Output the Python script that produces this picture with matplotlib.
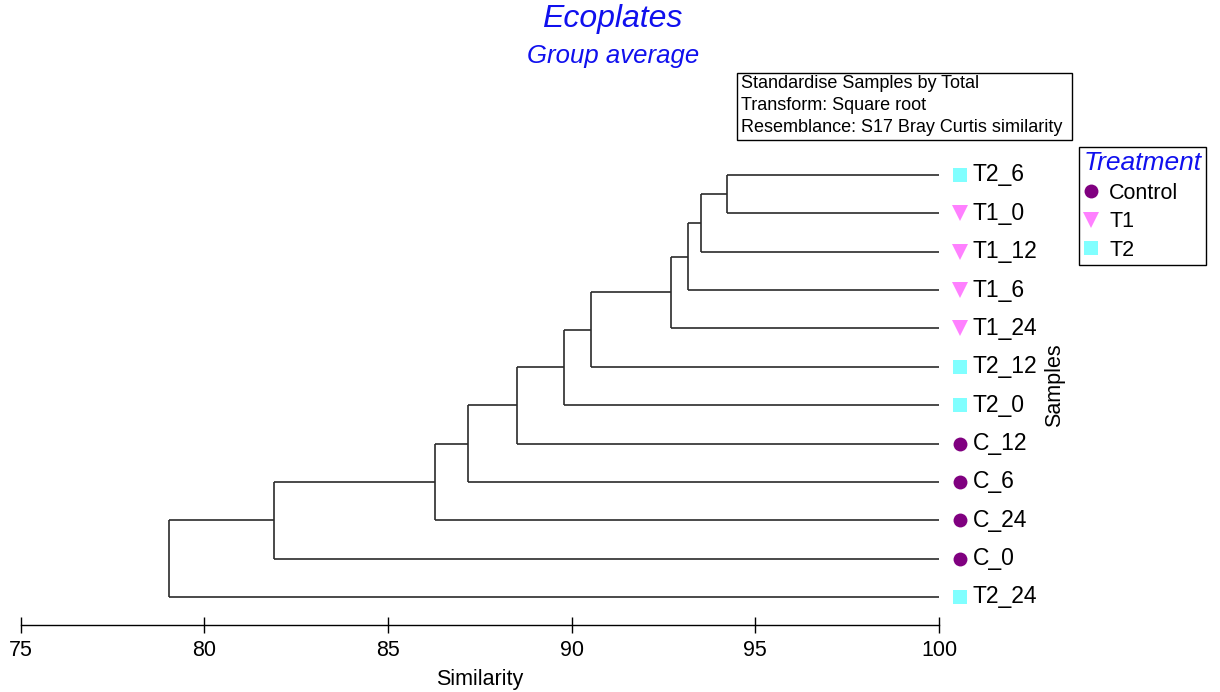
import numpy as np
import matplotlib
matplotlib.use("Agg")
import matplotlib.pyplot as plt
from matplotlib.lines import Line2D
from matplotlib.patches import Rectangle
from matplotlib.transforms import ScaledTranslation

plt.rcParams['font.family'] = ['Liberation Sans', 'DejaVu Sans']

# Samples in dendrogram order (top to bottom) and their treatment
samples = ['T2_6', 'T1_0', 'T1_12', 'T1_6', 'T1_24', 'T2_12', 'T2_0',
           'C_12', 'C_6', 'C_24', 'C_0', 'T2_24']
treatment = ['T2', 'T1', 'T1', 'T1', 'T1', 'T2', 'T2',
             'Control', 'Control', 'Control', 'Control', 'T2']

# Group-average merges: (node a, node b, similarity); new nodes numbered from 12
merge_a = [0, 12, 13, 14, 15, 16, 17, 18, 19, 20, 21]
merge_b = [1, 2, 3, 4, 5, 6, 7, 8, 9, 10, 11]
merge_sim = [94.22, 93.53, 93.16, 92.71, 90.52, 89.78, 88.51, 87.19, 86.28, 81.91, 79.04]

groups = ['Control', 'T1', 'T2']
group_marker = {'Control': 'o', 'T1': 'v', 'T2': 's'}
group_color = {'Control': '#800080', 'T1': '#ff80ff', 'T2': '#80ffff'}

W, H = 1220, 692
fig = plt.figure(figsize=(W / 100, H / 100), dpi=100)
ax = fig.add_axes([20.5 / W, 1 - 625 / H, (939 - 20.5) / W, (625 - 160) / H])

n = len(samples)
ypos = {i: float(i) for i in range(n)}
xpos = {i: 100.0 for i in range(n)}
line_kw = dict(color='#2b2b2b', lw=1.2, solid_capstyle='butt')

for k, (a, b, s) in enumerate(zip(merge_a, merge_b, merge_sim)):
    for c in (a, b):
        ax.plot([s, xpos[c]], [ypos[c], ypos[c]], **line_kw)
    ax.plot([s, s], [ypos[a], ypos[b]], **line_kw)
    node = n + k
    ypos[node] = (ypos[a] + ypos[b]) / 2
    xpos[node] = s

# Leaf markers and labels to the right of similarity 100
mark_tr = ax.transData + ScaledTranslation(0.21, 0, fig.dpi_scale_trans)
text_tr = ax.transData + ScaledTranslation(0.335, 0, fig.dpi_scale_trans)
for i, (name, grp) in enumerate(zip(samples, treatment)):
    ms = 11 if group_marker[grp] == 'v' else 10
    ax.plot(100, i, marker=group_marker[grp], color=group_color[grp],
            markersize=ms, markeredgewidth=0, transform=mark_tr, clip_on=False)
    ax.text(100, i, name, transform=text_tr, va='center', ha='left',
            fontsize=16.5, clip_on=False)

ax.set_xlim(75, 100)
ax.set_ylim((625 - 175) / 38.36, (160 - 175) / 38.36)
ax.set_xticks(np.arange(75, 101, 5))
ax.set_yticks([])
for side in ('top', 'right', 'left'):
    ax.spines[side].set_visible(False)
ax.spines['bottom'].set_linewidth(1.0)
ax.tick_params(axis='x', direction='inout', length=11, width=1.0,
               labelsize=15.5, pad=5)
ax.set_xlabel('Similarity', fontsize=15.5, labelpad=6)

fig.text(1055 / W, 1 - 385 / H, 'Samples', rotation=90, fontsize=15.5,
         ha='center', va='center')

# Titles
fig.text(612 / W, 1 - 19 / H, 'Ecoplates', color='#1010ee', style='italic',
         fontsize=23, ha='center', va='center')
fig.text(613 / W, 1 - 56 / H, 'Group average', color='#1010ee', style='italic',
         fontsize=18.5, ha='center', va='center')

# Analysis settings box
fig.patches.append(Rectangle((737 / W, 1 - 140 / H), 335 / W, 67 / H,
                             transform=fig.transFigure, fill=False,
                             edgecolor='black', lw=1.0))
info = ['Standardise Samples by Total', 'Transform: Square root',
        'Resemblance: S17 Bray Curtis similarity']
for line, y in zip(info, [84, 106, 128]):
    fig.text(741 / W, 1 - y / H, line, fontsize=13, ha='left', va='center')

# Treatment legend
handles = [Line2D([], [], ls='none', marker=group_marker[g], color=group_color[g],
                  markersize=11 if g == 'T1' else 10, markeredgewidth=0)
           for g in groups]
leg = fig.legend(handles, groups, loc='upper left',
                 bbox_to_anchor=(1079 / W, 1 - 147 / H), borderaxespad=0,
                 fontsize=15.5, title='Treatment', title_fontsize=19,
                 alignment='left', handlelength=0.7, handletextpad=0.5,
                 labelspacing=0.35, borderpad=0.2, fancybox=False,
                 edgecolor='black', framealpha=1)
leg.get_frame().set_linewidth(1.0)
leg.get_title().set_color('#1010ee')
leg.get_title().set_style('italic')

fig.savefig('out.png', dpi=100)
